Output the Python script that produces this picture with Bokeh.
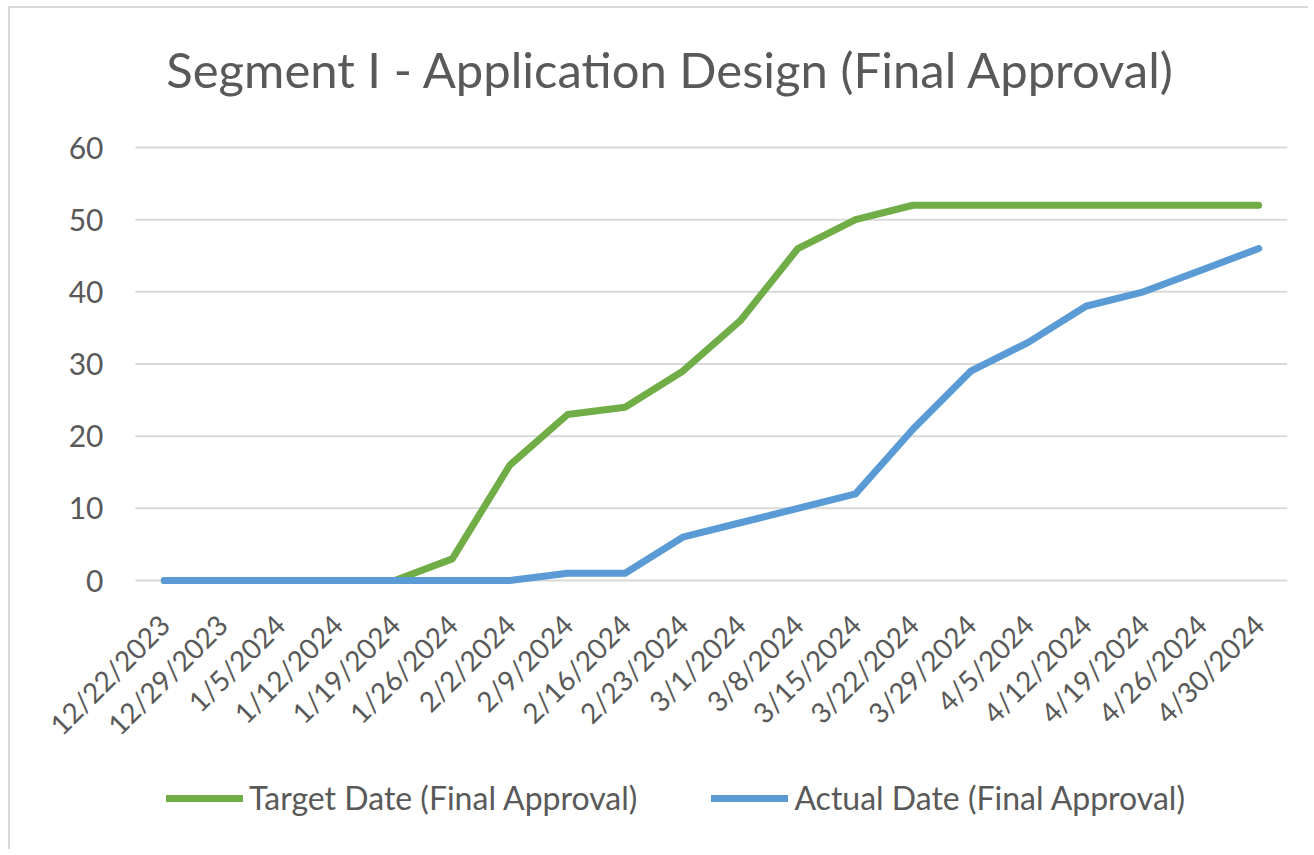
import math
from bokeh.plotting import figure
from bokeh.models import Range1d, Legend, LegendItem
from bokeh.core.properties import value
from bokeh.embed import file_html
from bokeh.resources import INLINE

dates = ["12/22/2023", "12/29/2023", "1/5/2024", "1/12/2024", "1/19/2024", "1/26/2024",
         "2/2/2024", "2/9/2024", "2/16/2024", "2/23/2024", "3/1/2024", "3/8/2024",
         "3/15/2024", "3/22/2024", "3/29/2024", "4/5/2024", "4/12/2024", "4/19/2024",
         "4/26/2024", "4/30/2024"]
target = [0, 0, 0, 0, 0, 3, 16, 23, 24, 29, 36, 46, 50, 52, 52, 52, 52, 52, 52, 52]
actual = [0, 0, 0, 0, 0, 0, 0, 1, 1, 6, 8, 10, 12, 21, 29, 33, 38, 40, 43, 46]
y_ticks = [0, 10, 20, 30, 40, 50, 60]
y_tick_labels = [str(t) for t in y_ticks]
title_text = "Segment I - Application Design (Final Approval)"

FONT = "Lato"
TXT = "#595959"
GREEN = "#70AD47"
BLUE = "#5B9BD5"
GRID = "#d9d9d9"

n = len(dates)
xi = list(range(n))  # category positions (band centres)

# layout: canvas starts at page (10, 8); plot area spans page x 135..1287, y 147 (60) .. 580 (0)
W, H = 1300, 843
ky = 433.0 / 60.0               # px per y unit
kx = (1287 - 135) / n           # px per category
y_top = 60 + (147 - 8) / ky
y_bot = -(8 + H - 580) / ky
x_left = -0.5 - (135 - 10) / kx
x_right = n - 0.5

p = figure(width=W, height=H, x_range=Range1d(x_left, x_right), y_range=Range1d(y_bot, y_top),
           output_backend="svg", toolbar_location=None,
           min_border_left=0, min_border_right=(10 + W) - 1287, min_border_top=0, min_border_bottom=0)
p.styles = {"margin-left": "8px", "margin-top": "6px",
            "border-left": "2px solid #d9d9d9", "border-top": "2px solid #d9d9d9"}
p.outline_line_color = None
p.background_fill_color = "white"
p.border_fill_color = "white"
p.xaxis.visible = False
p.yaxis.visible = False
p.xgrid.visible = False
p.ygrid.visible = False

# horizontal gridlines across the category band
p.segment(x0=[-0.5] * len(y_ticks), x1=[n - 0.5] * len(y_ticks), y0=y_ticks, y1=y_ticks,
          line_color=GRID, line_width=2)

# y tick labels
p.text(x=[-0.5] * len(y_ticks), y=y_ticks, text=y_tick_labels, x_offset=-32,
       text_align="right", text_baseline="middle",
       text_font=value(FONT), text_font_size="30px", text_color=TXT)

# category labels along the zero line, rotated
p.text(x=xi, y=[0] * n, text=dates, angle=math.pi / 4,
       x_offset=0, y_offset=39, text_align="right", text_baseline="middle",
       text_font=value(FONT), text_font_size="28px", text_color=TXT)

# title
p.text(x=[0], y=[y_ticks[-1]], text=[title_text], x_offset=2, y_offset=-79,
       text_align="left", text_baseline="alphabetic",
       text_font=value(FONT), text_font_size="49px", text_color=TXT)

r1 = p.line(xi, target, line_color=GREEN, line_width=7, line_cap="round", line_join="round")
r2 = p.line(xi, actual, line_color=BLUE, line_width=7, line_cap="round", line_join="round")

legend = Legend(items=[LegendItem(label="Target Date (Final Approval)", renderers=[r1]),
                       LegendItem(label="Actual Date (Final Approval)", renderers=[r2])],
                location=(156, (8 + H) - 817), orientation="horizontal",
                glyph_width=77, glyph_height=30, label_height=30, label_standoff=6,
                padding=0, margin=0, spacing=74,
                label_text_font=FONT, label_text_font_size="32px", label_text_color=TXT,
                border_line_color=None, background_fill_alpha=0)
p.add_layout(legend)

open("out.html", "w").write(file_html(p, INLINE))
